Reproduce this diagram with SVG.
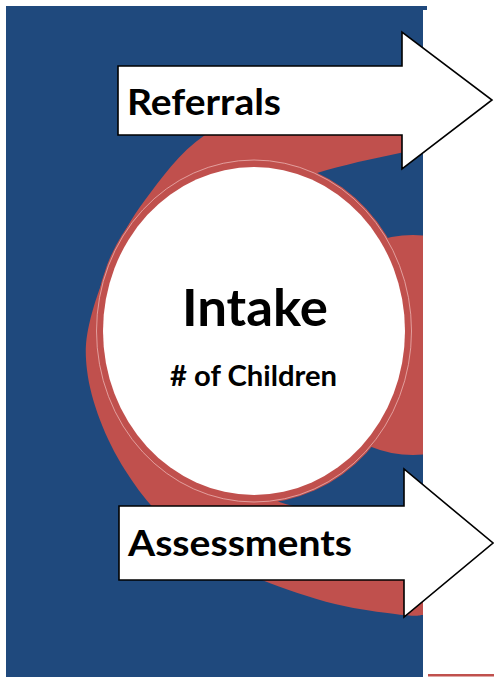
<svg xmlns="http://www.w3.org/2000/svg" width="494" height="677" viewBox="0 0 494 677">
<style>
.blue{fill:#1F497D}
.red{fill:#C0504D}
.arrow{fill:#FFFFFF;stroke:#000000;stroke-width:1.6;stroke-linejoin:miter}
.lbl{font-family:Lato,"Open Sans","Liberation Sans",sans-serif;font-weight:700;fill:#000000}
</style>
<defs>
<clipPath id="panel"><rect x="6" y="6" width="417" height="671"/></clipPath>
</defs>
<g id="background">
<rect class="blue" x="6" y="6" width="417" height="671"/>
<rect class="blue" x="423" y="6" width="4" height="4"/>
<rect class="red" x="428" y="674" width="66" height="2.5"/>
</g>
<g id="ring" clip-path="url(#panel)">
<path class="red" d="M 440,80 L 423,80 C 402.5,82.5 336.3,85.8 300,95 C 263.7,104.2 230.8,117.5 205,135 C 179.2,152.5 160.7,179.2 145,200 C 129.3,220.8 120.3,239.2 111,260 C 101.7,280.8 93,306.7 89,325 C 85,343.3 85.2,354.2 87,370 C 88.8,385.8 93.7,403.3 100,420 C 106.3,436.7 115,454.2 125,470 C 135,485.8 145.8,500.8 160,515 C 174.2,529.2 193,544.2 210,555 C 227,565.8 241.2,571.8 262,580 C 282.8,588.2 311.5,598.2 335,604 C 358.5,609.8 388.3,613.2 403,615 C 417.7,616.8 419.7,615 423,615 L 440,615 Z"/>
<path class="blue" d="M 440,140 L 423,147 C 415,149 408,151.5 400,153 C 386,156 372,159 358,162 C 344,165.5 330,169 317,173 L 300,190 L 232,330 L 250,480 L 268,496 C 276,501 284,504 293,506 C 330,520 370,555 403,578 C 410,583 416,587 423,589 L 440,590 Z"/>
<circle class="red" cx="413" cy="345" r="110"/>
</g>
<g id="intake">
<ellipse class="red" cx="254" cy="331" rx="159" ry="172.5"/>
<ellipse cx="254" cy="331" rx="157.5" ry="171" fill="none" stroke="#EBB3B1" stroke-width="0.8"/>
<ellipse cx="254" cy="331" rx="151" ry="164" fill="#FFFFFF"/>
<text class="lbl" x="182" y="326" font-size="52" textLength="146" lengthAdjust="spacingAndGlyphs">Intake</text>
<text class="lbl" x="170" y="386" font-size="29" textLength="167" lengthAdjust="spacingAndGlyphs"># of Children</text>
</g>
<g id="referrals">
<polygon class="arrow" points="118,66 402,66 402,32 492,100 402,169 402,135 118,135"/>
<text class="lbl" x="127" y="115" font-size="37" textLength="154" lengthAdjust="spacingAndGlyphs">Referrals</text>
</g>
<g id="assessments">
<polygon class="arrow" points="119,506 404,506 404,469 493,543 404,617 404,580 119,580"/>
<text class="lbl" x="128" y="556" font-size="37" textLength="224" lengthAdjust="spacingAndGlyphs">Assessments</text>
</g>
<g id="connectors"/>
</svg>
